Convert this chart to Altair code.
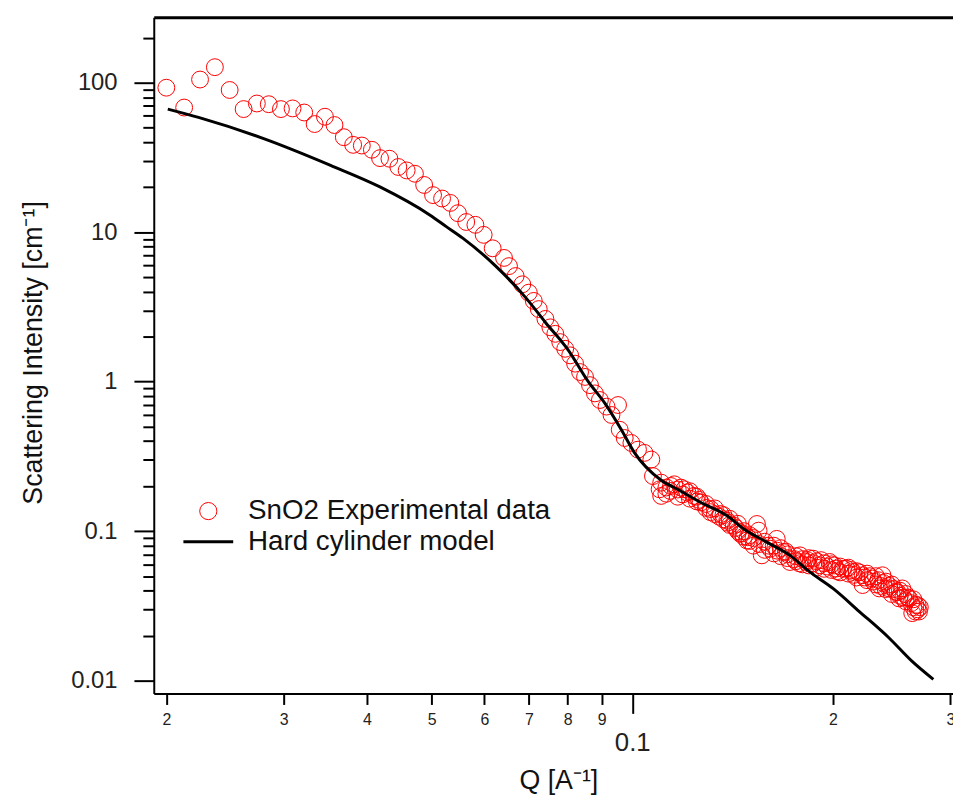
import altair as alt
import pandas as pd

# ---- data ----
q_exp = [0.02000, 0.02127, 0.02247, 0.02365, 0.02489, 0.02612, 0.02734, 0.02849, 0.02971, 0.03093,
         0.03220, 0.03338, 0.03459, 0.03575, 0.03692, 0.03813, 0.03929, 0.04068, 0.04184, 0.04322,
         0.04457, 0.04587, 0.04720, 0.04873, 0.05025, 0.05184, 0.05334, 0.05476, 0.05635, 0.05816,
         0.05985, 0.06174, 0.06421, 0.06532, 0.06684, 0.06839, 0.06995, 0.07116, 0.07239, 0.07407,
         0.07535, 0.07665, 0.07797, 0.07932, 0.08069, 0.08208, 0.08350, 0.08494, 0.08641, 0.08790,
         0.08942, 0.09149, 0.09307, 0.09520, 0.09575, 0.09742, 0.09969, 0.1020, 0.1043, 0.1068,
         0.1074, 0.1099, 0.1105, 0.1105, 0.1125, 0.1125, 0.1143, 0.1156, 0.1170, 0.1170,
         0.1183, 0.1197, 0.1210, 0.1220, 0.1220, 0.1238, 0.1250, 0.1250, 0.1267, 0.1290,
         0.1290, 0.1311, 0.1330, 0.1330, 0.1357, 0.1370, 0.1370, 0.1388, 0.1400, 0.1400,
         0.1420, 0.1440, 0.1440, 0.1453, 0.1470, 0.1470, 0.1486, 0.1500, 0.1500, 0.1520,
         0.1520, 0.1538, 0.1547, 0.1564, 0.1580, 0.1580, 0.1610, 0.1630, 0.1630, 0.1647,
         0.1670, 0.1670, 0.1685, 0.1710, 0.1710, 0.1724, 0.1760, 0.1760, 0.1785, 0.1800,
         0.1800, 0.1825, 0.1840, 0.1840, 0.1867, 0.1890, 0.1890, 0.1911, 0.1940, 0.1940,
         0.1977, 0.1990, 0.1990, 0.2022, 0.2050, 0.2050, 0.2093, 0.2110, 0.2110, 0.2141,
         0.2170, 0.2170, 0.2216, 0.2216, 0.2250, 0.2250, 0.2293, 0.2320, 0.2320, 0.2347,
         0.2373, 0.2400, 0.2400, 0.2428, 0.2450, 0.2450, 0.2484, 0.2520, 0.2520, 0.2513,
         0.2541, 0.2570, 0.2570, 0.2601, 0.2630, 0.2640, 0.2640, 0.2660, 0.2680, 0.2680,
         0.2692,
         0.1140, 0.1190, 0.1260, 0.1310, 0.1350, 0.1390, 0.1430, 0.1460, 0.1490, 0.1550,
         0.1600, 0.1650, 0.1700, 0.1750, 0.1780, 0.1830, 0.1870, 0.1920, 0.1960, 0.2010,
         0.2030, 0.2070, 0.2130, 0.2150, 0.2190, 0.2230, 0.2270, 0.2300, 0.2340, 0.2360,
         0.2380, 0.2430, 0.2470, 0.2500, 0.2550, 0.2590, 0.2620, 0.2660, 0.2700]
i_exp = [92.6, 68.2, 105, 127, 89.4, 66.6, 72.6, 71.8, 66.6, 67.3,
         63.2, 52.9, 59.2, 52.1, 43.2, 38.4, 38.0, 35.6, 31.3, 31.0,
         27.3, 25.9, 24.6, 20.7, 17.7, 16.8, 15.7, 13.4, 11.7, 11.2,
         9.6, 7.8, 6.73, 5.93, 5.09, 4.48, 3.94, 3.47, 3.06, 2.63,
         2.31, 2.09, 1.84, 1.66, 1.50, 1.32, 1.16, 1.076, 0.948, 0.835,
         0.754, 0.681, 0.599, 0.698, 0.477, 0.420, 0.389, 0.351, 0.334, 0.3015,
         0.2336, 0.1906, 0.2112, 0.1721, 0.196, 0.178, 0.2005, 0.2058, 0.190, 0.170,
         0.1957, 0.1906, 0.1813, 0.185, 0.165, 0.1721, 0.170, 0.158, 0.1556, 0.152,
         0.143, 0.1405, 0.142, 0.130, 0.1302, 0.128, 0.120, 0.1175, 0.121, 0.110,
         0.1088, 0.112, 0.100, 0.0959, 0.100, 0.092, 0.0866, 0.094, 0.086, 0.090,
         0.080, 0.1117, 0.1008, 0.0689, 0.085, 0.075, 0.0763, 0.080, 0.071, 0.0888,
         0.077, 0.068, 0.0725, 0.070, 0.066, 0.0622, 0.068, 0.063, 0.0689, 0.065,
         0.060, 0.0622, 0.066, 0.059, 0.0655, 0.063, 0.057, 0.0591, 0.061, 0.056,
         0.0622, 0.060, 0.055, 0.0562, 0.058, 0.053, 0.0562, 0.057, 0.052, 0.0534,
         0.054, 0.049, 0.0507, 0.0436, 0.052, 0.047, 0.0482, 0.050, 0.044, 0.0414,
         0.0507, 0.046, 0.041, 0.0414, 0.044, 0.038, 0.0393, 0.040, 0.037, 0.0355,
         0.0414, 0.038, 0.034, 0.0355, 0.0283, 0.035, 0.031, 0.0321, 0.032, 0.030,
         0.0290,
         0.186, 0.176, 0.162, 0.134, 0.125, 0.114, 0.105, 0.097, 0.091, 0.082,
         0.080, 0.074, 0.073, 0.065, 0.061, 0.064, 0.061, 0.064, 0.058, 0.059,
         0.054, 0.056, 0.055, 0.051, 0.053, 0.049, 0.050, 0.046, 0.047, 0.043,
         0.045, 0.043, 0.041, 0.039, 0.036, 0.036, 0.033, 0.029, 0.031]

q_model = [0.0201, 0.02235, 0.02806, 0.03527, 0.04183, 0.04968, 0.0526, 0.05568, 0.0624, 0.0692,
           0.0741, 0.0802, 0.0859, 0.0910, 0.0963, 0.1008, 0.1105, 0.1169, 0.1267, 0.1388,
           0.1470, 0.1591, 0.1724, 0.1846, 0.2000, 0.2191, 0.2428, 0.2627, 0.2829]
i_model = [66.6, 58.6, 42.1, 28.0, 20.1, 13.05, 10.9, 9.13, 5.93, 3.65,
           2.49, 1.62, 1.00, 0.716, 0.477, 0.334, 0.219, 0.1907, 0.1556, 0.1268,
           0.1035, 0.0845, 0.0689, 0.0534, 0.0414, 0.0290, 0.0193, 0.0135, 0.0102]

series_names = ["SnO2 Experimental data", "Hard cylinder model"]

x_major = [0.1]
x_minor = [0.02, 0.03, 0.04, 0.05, 0.06, 0.07, 0.08, 0.09, 0.2, 0.3]
y_major = [0.01, 0.1, 1, 10, 100]
y_minor = [0.02, 0.03, 0.04, 0.05, 0.06, 0.07, 0.08, 0.09,
           0.2, 0.3, 0.4, 0.5, 0.6, 0.7, 0.8, 0.9,
           2, 3, 4, 5, 6, 7, 8, 9,
           20, 30, 40, 50, 60, 70, 80, 90, 200]

df_exp = pd.DataFrame({"Q": q_exp, "I": i_exp, "series": series_names[0]})
df_mod = pd.DataFrame({"Q": q_model, "I": i_model, "series": series_names[1]})

FONT = "Liberation Sans"
xscale = alt.Scale(type="log", domain=[0.01915, 0.30277], nice=False)
yscale = alt.Scale(type="log", domain=[0.0082, 274.0], nice=False)

legend = alt.Legend(title=None, orient="none", legendX=41, legendY=484,
                    labelFontSize=28, labelFont=FONT, labelColor="#111111", labelLimit=500,
                    symbolSize=300, labelOffset=26, rowPadding=3, padding=0)

color = alt.Color("series:N", scale=alt.Scale(domain=series_names, range=["#ff0000", "#000000"]), legend=legend)
shape = alt.Shape("series:N", scale=alt.Scale(domain=series_names, range=["circle", "M-2.9,0H2.9"]), legend=legend)
swidth = alt.StrokeWidth("series:N", scale=alt.Scale(domain=series_names, range=[1, 3]), legend=legend)

ax_x_major = alt.Axis(orient="bottom", values=x_major, format="~g", tickSize=20, tickWidth=2,
                      tickColor="black", domainColor="black", domainWidth=2,
                      labelFontSize=26, labelFont=FONT, labelColor="#222222", labelPadding=16,
                      labelFlush=False, labelOverlap=False, grid=False,
                      title="Q [A⁻¹]", titleFont=FONT, titleFontSize=27, titleFontWeight="normal",
                      titleColor="#111111", titleX=408, titleY=96, titleBaseline="alphabetic")
ax_x_minor = alt.Axis(orient="bottom", values=x_minor,
                      labelExpr="datum.value < 0.095 ? format(datum.value * 100, '.0f') : format(datum.value * 10, '.0f')",
                      tickSize=11, tickWidth=2, tickColor="black", domain=False,
                      labelFontSize=16, labelFont=FONT, labelColor="#222222", labelPadding=7,
                      labelFlush=False, labelOverlap=False, grid=False, title=None)
ax_x_top = alt.Axis(orient="top", ticks=False, labels=False, grid=False, title=None,
                    domainColor="black", domainWidth=3)
ax_y_major = alt.Axis(orient="left", values=y_major, format="~g", tickSize=20, tickWidth=2,
                      tickColor="black", domainColor="black", domainWidth=2,
                      labelFontSize=24, labelFont=FONT, labelColor="#222222", labelPadding=17,
                      labelOverlap=False, labelFlush=False, grid=False,
                      title="Scattering Intensity [cm⁻¹]", titleFont=FONT, titleFontSize=27,
                      titleFontWeight="normal", titleColor="#111111", titleAngle=270,
                      titleX=-113, titleY=338, titleBaseline="alphabetic", titleAlign="center")
ax_y_minor = alt.Axis(orient="left", values=y_minor, tickSize=11, tickWidth=2, tickColor="black",
                      labels=False, domain=False, grid=False, title=None)

points = alt.Chart(df_exp).mark_point(filled=False, size=289, opacity=1, clip=True).encode(
    x=alt.X("Q:Q", scale=xscale, axis=ax_x_major),
    y=alt.Y("I:Q", scale=yscale, axis=ax_y_major),
    color=color, shape=shape, strokeWidth=swidth,
)
line = alt.Chart(df_mod).mark_line(clip=True, interpolate="monotone").encode(
    x=alt.X("Q:Q", scale=xscale, axis=ax_x_minor),
    y=alt.Y("I:Q", scale=yscale, axis=ax_y_minor),
    color=color, strokeWidth=swidth,
)
frame_top = alt.Chart(df_mod).mark_line(opacity=0).encode(
    x=alt.X("Q:Q", scale=xscale, axis=ax_x_top),
    y=alt.Y("I:Q", scale=yscale, axis=None),
)

chart = alt.layer(points, line, frame_top).resolve_scale(
    x="shared", y="shared"
).resolve_axis(
    x="independent", y="independent"
).properties(
    width=806, height=682,
    autosize=alt.AutoSizeParams(type="none"),
    padding={"left": 147, "top": 6, "right": 0, "bottom": 102},
).configure_view(stroke=None)

chart.save("out.html", embed_options={"renderer": "svg", "actions": False})
